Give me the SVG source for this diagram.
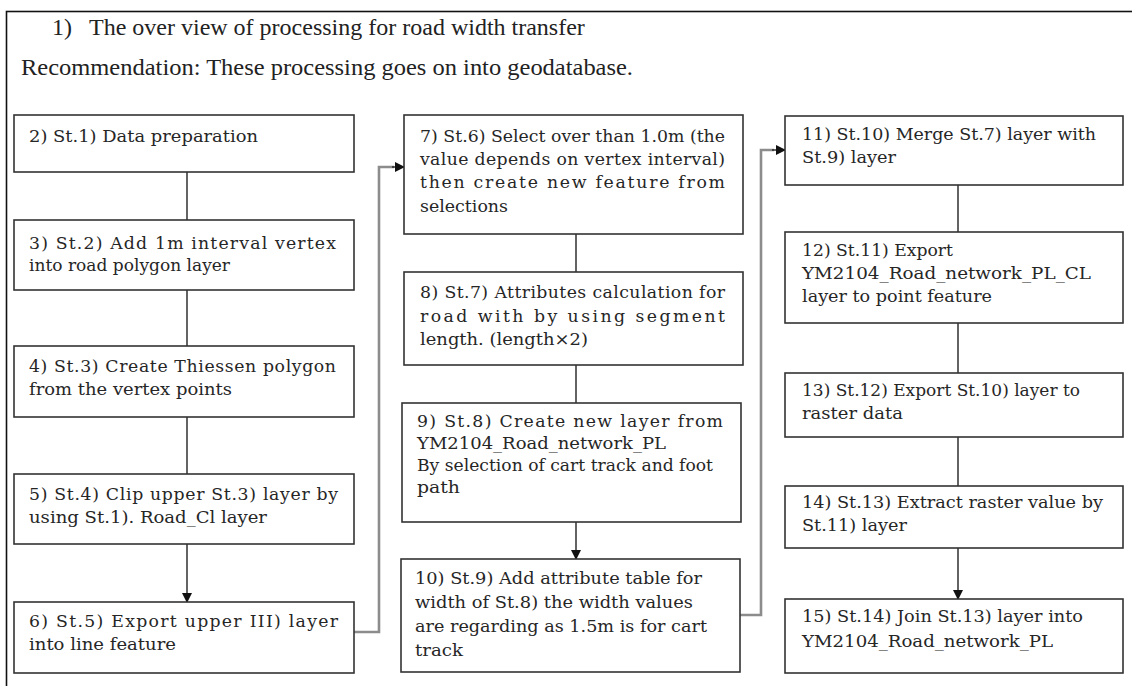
<svg xmlns="http://www.w3.org/2000/svg" width="1132" height="686" viewBox="0 0 1132 686">
<style>
.frame{fill:#fff;stroke:#111;stroke-width:1.6}
.box{fill:#fff;stroke:#333;stroke-width:1.6}
.t{font-family:"DejaVu Serif","Liberation Serif",serif;font-size:17.3px;fill:#262626}
.h{font-family:"Liberation Serif","Times New Roman",serif;font-size:24px;fill:#222}
.c{fill:none;stroke:#222;stroke-width:1.4}
.g{fill:none;stroke:#8c8c8c;stroke-width:2.6}
</style>
<defs>
<marker id="ah" markerWidth="10" markerHeight="10" refX="9" refY="5" orient="auto" markerUnits="userSpaceOnUse">
<path d="M0,0 L10,5 L0,10 Z" fill="#111"/>
</marker>
</defs>
<rect class="frame" x="6.5" y="11.5" width="1140" height="700"/>
<g id="header">
<text class="h" x="52" y="35">1)</text>
<text class="h" x="89" y="35">The over view of processing for road width transfer</text>
<text class="h" x="21" y="75" textLength="612" lengthAdjust="spacingAndGlyphs">Recommendation: These processing goes on into geodatabase.</text>
</g>
<g id="connectors">
<line class="c" x1="187" y1="172" x2="187" y2="220"/>
<line class="c" x1="187" y1="290" x2="187" y2="346"/>
<line class="c" x1="187" y1="417" x2="187" y2="474"/>
<line class="c" x1="187" y1="544" x2="187" y2="602" marker-end="url(#ah)"/>
<line class="c" x1="576" y1="234" x2="576" y2="272"/>
<line class="c" x1="576" y1="365" x2="576" y2="403"/>
<line class="c" x1="576" y1="522" x2="576" y2="559" marker-end="url(#ah)"/>
<line class="c" x1="958" y1="185" x2="958" y2="232"/>
<line class="c" x1="958" y1="323" x2="958" y2="373"/>
<line class="c" x1="958" y1="437" x2="958" y2="486"/>
<line class="c" x1="958" y1="548" x2="958" y2="599" marker-end="url(#ah)"/>
<path class="g" d="M354,632 H379 V167 H394"/>
<line class="c" x1="392" y1="167" x2="404" y2="167" marker-end="url(#ah)"/>
<path class="g" d="M740,615 H761 V150 H774"/>
<line class="c" x1="772" y1="150" x2="785" y2="150" marker-end="url(#ah)"/>
</g>
<g id="n2">
<rect class="box" x="14" y="115" width="340" height="57"/>
<text class="t" x="29" y="142" textLength="229" lengthAdjust="spacingAndGlyphs">2) St.1) Data preparation</text>
</g>
<g id="n3">
<rect class="box" x="14" y="220" width="340" height="70"/>
<text class="t" x="29" y="249" textLength="307" lengthAdjust="spacing">3) St.2) Add 1m interval vertex</text>
<text class="t" x="29" y="271" textLength="201" lengthAdjust="spacingAndGlyphs">into road polygon layer</text>
</g>
<g id="n4">
<rect class="box" x="14" y="346" width="340" height="71"/>
<text class="t" x="29" y="372" textLength="307" lengthAdjust="spacing">4) St.3) Create Thiessen polygon</text>
<text class="t" x="29" y="395" textLength="203" lengthAdjust="spacingAndGlyphs">from the vertex points</text>
</g>
<g id="n5">
<rect class="box" x="14" y="474" width="340" height="70"/>
<text class="t" x="29" y="500" textLength="309" lengthAdjust="spacing">5) St.4) Clip upper St.3) layer by</text>
<text class="t" x="29" y="523" textLength="238" lengthAdjust="spacingAndGlyphs">using St.1). Road_Cl layer</text>
</g>
<g id="n6">
<rect class="box" x="14" y="602" width="340" height="71"/>
<text class="t" x="29" y="627" textLength="309" lengthAdjust="spacing">6) St.5) Export upper III) layer</text>
<text class="t" x="29" y="650" textLength="147" lengthAdjust="spacingAndGlyphs">into line feature</text>
</g>
<g id="n7">
<rect class="box" x="404" y="115" width="339" height="119"/>
<text class="t" x="420" y="142" textLength="305" lengthAdjust="spacing">7) St.6) Select over than 1.0m (the</text>
<text class="t" x="420" y="165" textLength="305" lengthAdjust="spacing">value depends on vertex interval)</text>
<text class="t" x="420" y="188" textLength="305" lengthAdjust="spacing">then create new feature from</text>
<text class="t" x="420" y="212" textLength="88" lengthAdjust="spacingAndGlyphs">selections</text>
</g>
<g id="n8">
<rect class="box" x="404" y="272" width="339" height="93"/>
<text class="t" x="420" y="298" textLength="305" lengthAdjust="spacing">8) St.7) Attributes calculation for</text>
<text class="t" x="420" y="322" textLength="305" lengthAdjust="spacing">road with by using segment</text>
<text class="t" x="420" y="345" textLength="168" lengthAdjust="spacingAndGlyphs">length. (length×2)</text>
</g>
<g id="n9">
<rect class="box" x="402" y="403" width="339" height="119"/>
<text class="t" x="417" y="427" textLength="306" lengthAdjust="spacing">9) St.8) Create new layer from</text>
<text class="t" x="417" y="449" textLength="249" lengthAdjust="spacingAndGlyphs">YM2104_Road_network_PL</text>
<text class="t" x="417" y="471" textLength="296" lengthAdjust="spacingAndGlyphs">By selection of cart track and foot</text>
<text class="t" x="417" y="493" textLength="43" lengthAdjust="spacingAndGlyphs">path</text>
</g>
<g id="n10">
<rect class="box" x="401" y="559" width="339" height="113"/>
<text class="t" x="415" y="584" textLength="287" lengthAdjust="spacingAndGlyphs">10) St.9) Add attribute table for</text>
<text class="t" x="415" y="608" textLength="278" lengthAdjust="spacingAndGlyphs">width of St.8) the width values</text>
<text class="t" x="415" y="632" textLength="292" lengthAdjust="spacingAndGlyphs">are regarding as 1.5m is for cart</text>
<text class="t" x="415" y="656" textLength="48" lengthAdjust="spacingAndGlyphs">track</text>
</g>
<g id="n11">
<rect class="box" x="785" y="116" width="338" height="69"/>
<text class="t" x="802" y="140" textLength="294" lengthAdjust="spacingAndGlyphs">11) St.10) Merge  St.7) layer with</text>
<text class="t" x="802" y="163" textLength="94" lengthAdjust="spacingAndGlyphs">St.9) layer</text>
</g>
<g id="n12">
<rect class="box" x="785" y="232" width="338" height="91"/>
<text class="t" x="802" y="256" textLength="151" lengthAdjust="spacingAndGlyphs">12) St.11) Export</text>
<text class="t" x="802" y="279" textLength="289" lengthAdjust="spacingAndGlyphs">YM2104_Road_network_PL_CL</text>
<text class="t" x="802" y="302" textLength="190" lengthAdjust="spacingAndGlyphs">layer to point feature</text>
</g>
<g id="n13">
<rect class="box" x="785" y="373" width="338" height="64"/>
<text class="t" x="802" y="396" textLength="278" lengthAdjust="spacingAndGlyphs">13) St.12) Export St.10) layer to</text>
<text class="t" x="802" y="419" textLength="101" lengthAdjust="spacingAndGlyphs">raster data</text>
</g>
<g id="n14">
<rect class="box" x="785" y="486" width="338" height="62"/>
<text class="t" x="802" y="508" textLength="301" lengthAdjust="spacingAndGlyphs">14) St.13) Extract raster value by</text>
<text class="t" x="802" y="531" textLength="105" lengthAdjust="spacingAndGlyphs">St.11) layer</text>
</g>
<g id="n15">
<rect class="box" x="785" y="599" width="338" height="74"/>
<text class="t" x="802" y="622" textLength="281" lengthAdjust="spacingAndGlyphs">15) St.14) Join St.13) layer into</text>
<text class="t" x="802" y="647" textLength="251" lengthAdjust="spacingAndGlyphs">YM2104_Road_network_PL</text>
</g>
</svg>
